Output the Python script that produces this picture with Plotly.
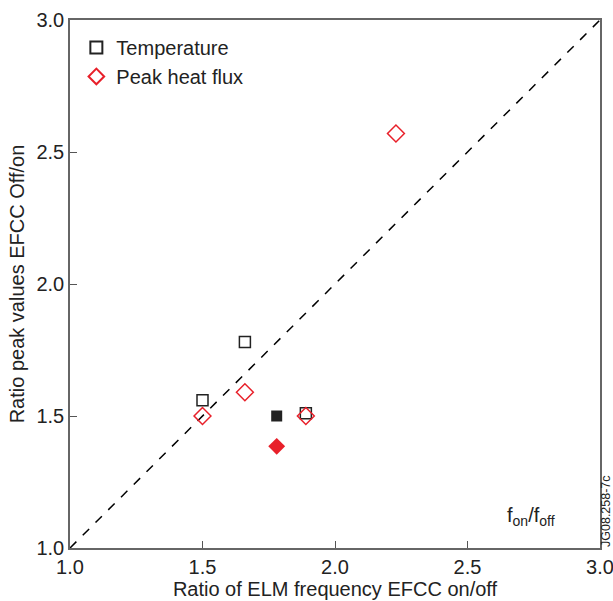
import plotly.graph_objects as go

# Data
temp_x = [1.50, 1.66, 1.89]
temp_y = [1.56, 1.78, 1.51]
flux_x = [1.50, 1.66, 1.89, 2.23]
flux_y = [1.50, 1.59, 1.50, 2.57]
temp_filled_x = [1.78]
temp_filled_y = [1.50]
flux_filled_x = [1.78]
flux_filled_y = [1.385]
diag = [1.0, 3.0]
tick_vals = [1.0, 1.5, 2.0, 2.5, 3.0]
tick_text = ["1.0", "1.5", "2.0", "2.5", "3.0"]

RED = "#e8202a"
FONT = "Liberation Sans, Arial, Helvetica, sans-serif"

fig = go.Figure()
fig.add_trace(go.Scatter(x=diag, y=diag, mode="lines",
                         line=dict(color="black", width=1.5, dash="dash"),
                         showlegend=False, hoverinfo="skip"))
fig.add_trace(go.Scatter(x=temp_x, y=temp_y, mode="markers", name="Temperature",
                         marker=dict(symbol="square-open", size=11,
                                     color="#222", line=dict(width=1.5))))
fig.add_trace(go.Scatter(x=flux_x, y=flux_y, mode="markers", name="Peak heat flux",
                         marker=dict(symbol="diamond-open", size=13,
                                     color=RED, line=dict(width=1.5))))
fig.add_trace(go.Scatter(x=temp_filled_x, y=temp_filled_y, mode="markers",
                         showlegend=False,
                         marker=dict(symbol="square", size=11, color="#222")))
fig.add_trace(go.Scatter(x=flux_filled_x, y=flux_filled_y, mode="markers",
                         showlegend=False,
                         marker=dict(symbol="diamond", size=13, color=RED)))

axis_common = dict(range=[1.0, 3.0], tickvals=tick_vals, ticktext=tick_text,
                   ticks="inside", ticklen=7, tickcolor="#555", tickwidth=1,
                   showline=True, linecolor="#666", linewidth=1.5, mirror=True,
                   showgrid=False, zeroline=False, automargin=False,
                   ticklabeloverflow="allow",
                   tickfont=dict(size=20, color="#222", family=FONT))

fig.update_layout(
    width=613, height=601,
    margin=dict(l=70, r=13, t=20, b=53),
    paper_bgcolor="white", plot_bgcolor="white",
    font=dict(family=FONT, color="#222"),
    xaxis=dict(**axis_common,
               title=dict(text="Ratio of ELM frequency EFCC on/off",
                          font=dict(size=20), standoff=2)),
    yaxis=dict(**axis_common,
               title=dict(text="Ratio peak values EFCC Off/on",
                          font=dict(size=20), standoff=6)),
    legend=dict(x=0.012, y=0.985, xanchor="left", yanchor="top",
                bgcolor="rgba(0,0,0,0)", font=dict(size=20, family=FONT),
                itemwidth=30, tracegroupgap=0, itemsizing="constant"),
    annotations=[
        dict(x=2.74, y=1.12, xref="x", yref="y", showarrow=False,
             text="f<sub>on</sub>/f<sub>off</sub>",
             font=dict(size=20, family=FONT, color="#222")),
        dict(x=1.0, xref="paper", xanchor="left", y=1.0, yref="y",
             yanchor="bottom", showarrow=False, textangle=-90,
             text="JG08.258-7c", xshift=-2, borderpad=0,
             font=dict(size=12.5, family=FONT, color="#222")),
    ],
)

fig.write_html("out.html")
